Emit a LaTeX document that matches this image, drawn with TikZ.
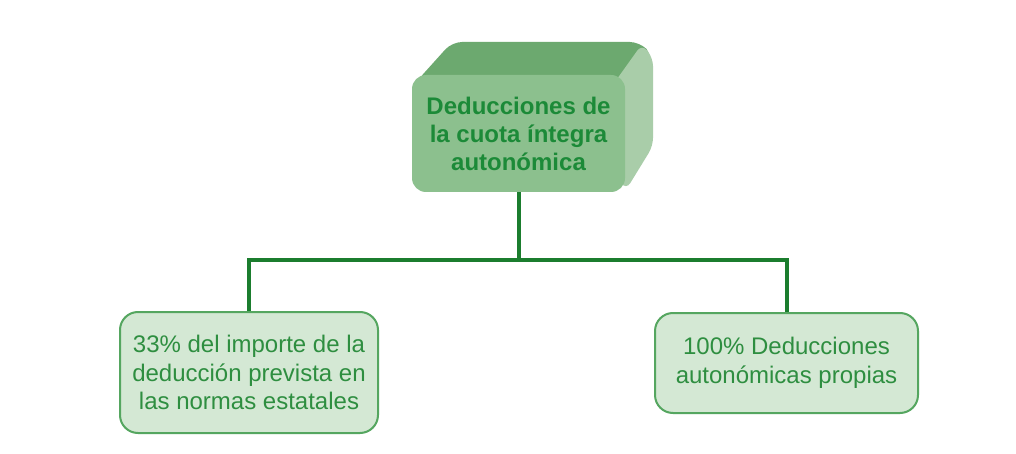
\documentclass[tikz,border=0pt]{standalone}
\usepackage{fontspec}
\setmainfont{Liberation Sans}
\definecolor{frontface}{HTML}{8CC08E}
\definecolor{topface}{HTML}{6CA96F}
\definecolor{sideface}{HTML}{A9CDA9}
\definecolor{toptext}{HTML}{1C8A38}
\definecolor{leaffill}{HTML}{D4E8D4}
\definecolor{leafline}{HTML}{55A660}
\definecolor{leaftext}{HTML}{2E8E40}
\definecolor{linkgreen}{HTML}{1B7D2E}
\tikzset{
  mainbox/.style={rectangle, rounded corners=14pt, fill=frontface, inner sep=0pt,
    minimum width=213pt, minimum height=117pt, align=center, text=toptext,
    font=\fontsize{24}{28}\selectfont\bfseries},
  leafbox/.style={rectangle, rounded corners=18pt, fill=leaffill, draw=leafline, line width=2pt,
    inner sep=0pt, align=center, text=leaftext, font=\fontsize{24}{28.5}\selectfont},
  link/.style={draw=linkgreen, line width=4pt}
}
\begin{document}
\begin{tikzpicture}[x=1pt,y=-1pt]
\useasboundingbox[fill=white] (0,0) rectangle (1016,454);
% 3D faces behind the main box
\fill[topface, rounded corners=10pt] (416,82) -- (452,42) -- (640,42) -- (653,56) -- (622,86) -- cycle;
\fill[sideface, rounded corners=8pt] (612,86) -- (642,44) -- (653,58) -- (653,146) -- (626,190) -- (612,170) -- cycle;
\node[mainbox] (top) at (518.5,133.5) {Deducciones de\\la cuota íntegra\\autonómica};
\node[leafbox, minimum width=258pt, minimum height=121pt] (left) at (249,372.5)
  {33\% del importe de la\\deducción prevista en\\las normas estatales};
\node[leafbox, minimum width=263pt, minimum height=100pt] (right) at (786.5,363)
  {100\% Deducciones\\autonómicas propias};
\coordinate (j) at (518.5,260);
\draw[link] (top.south) -- (j);
\draw[link] (left.north) |- (j) -| (right.north);
\end{tikzpicture}
\end{document}
